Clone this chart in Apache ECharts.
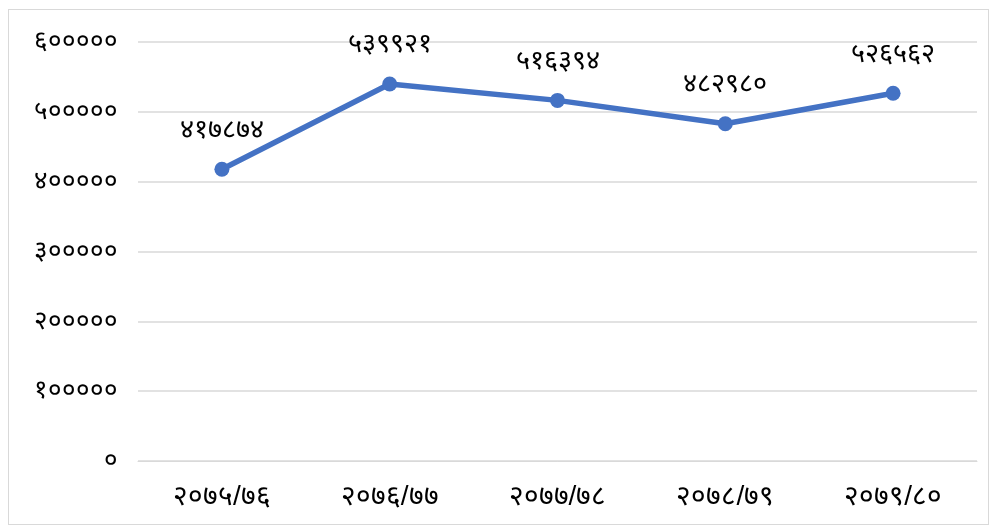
<!DOCTYPE html>
<html>
<head>
<meta charset="utf-8">
<script src="https://cdn.jsdelivr.net/npm/echarts@6/dist/echarts.min.js"></script>
<style>
  html, body { margin: 0; padding: 0; background: #fff; }
  #chart { position: absolute; left: 8px; top: 9px; width: 981px; height: 516px; border: 1px solid #d9d9d9; box-sizing: border-box; }
</style>
</head>
<body>
<div id="chart"></div>
<script>
// वर्ष (आर्थिक वर्ष)
var categories = ['२०७५/७६', '२०७६/७७', '२०७७/७८', '२०७८/७९', '२०७९/८०'];
// मान
var values = [417874, 539921, 516394, 482980, 526562];

var devDigits = ['०', '१', '२', '३', '४', '५', '६', '७', '८', '९'];
// अंक नेपालीमा बदल्ने
function toNepali(n) {
  return String(n).replace(/[0-9]/g, function(d) { return devDigits[+d]; });
}

var myChart = echarts.init(document.getElementById('chart'));
myChart.setOption({
  animation: false,
  grid: { left: 129, right: 11, top: 32, bottom: 63 },
  xAxis: {
    type: 'category',
    data: categories,
    axisLine: { lineStyle: { color: '#d9d9d9' } },
    axisTick: { show: false },
    axisLabel: { color: '#000', fontSize: 28, margin: 22 }
  },
  yAxis: {
    type: 'value',
    min: 0,
    max: 600000,
    interval: 100000,
    axisLine: { show: false },
    axisTick: { show: false },
    splitLine: { lineStyle: { color: '#d9d9d9', width: 1.5 } },
    axisLabel: {
      color: '#000',
      fontSize: 26,
      margin: 20,
      formatter: function(v) { return toNepali(v); }
    }
  },
  series: [{
    type: 'line',
    data: values,
    symbol: 'circle',
    symbolSize: 15,
    lineStyle: { color: '#4472C4', width: 5.5 },
    itemStyle: { color: '#4472C4' },
    label: {
      show: true,
      position: 'top',
      distance: 18,
      color: '#000',
      fontSize: 27,
      formatter: function(p) { return toNepali(p.value); }
    }
  }]
});
</script>
</body>
</html>
